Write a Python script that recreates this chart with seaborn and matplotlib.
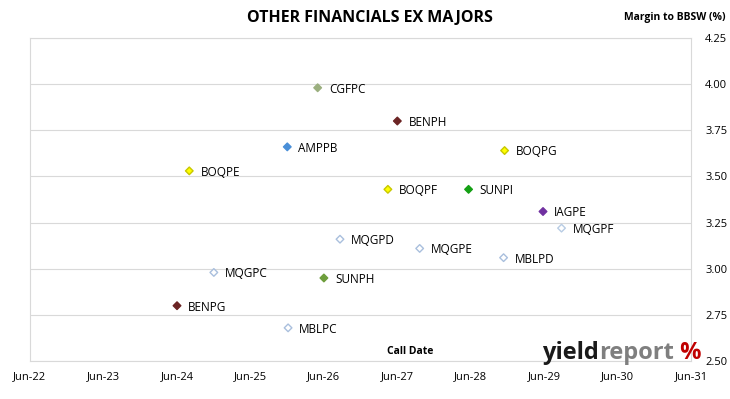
import pandas as pd
import numpy as np
import matplotlib
matplotlib.use("Agg")
import matplotlib.pyplot as plt
import matplotlib.dates as mdates
import seaborn as sns

# Données
codes = ['CGFPC', 'BENPH', 'AMPPB', 'BOQPE', 'BOQPG', 'BOQPF', 'SUNPI', 'IAGPE',
         'MQGPF', 'MQGPD', 'MQGPE', 'MBLPD', 'MQGPC', 'SUNPH', 'BENPG', 'MBLPC']
call_dates = ['2026-05-01', '2027-06-01', '2025-12-01', '2024-08-01', '2028-11-15',
              '2027-04-15', '2028-05-20', '2029-05-25', '2029-08-25', '2026-08-20',
              '2027-09-20', '2028-11-10', '2024-12-01', '2026-06-01', '2024-06-01',
              '2025-12-05']
margins = [3.98, 3.80, 3.66, 3.53, 3.64, 3.43, 3.43, 3.31,
           3.22, 3.16, 3.11, 3.06, 2.98, 2.95, 2.80, 2.68]
edge_colours = ['#9BAF7F', '#6B2424', '#4A8FD8', '#C8C800', '#C8C800', '#C8C800', '#14A014', '#7030A0',
                '#B8CCE4', '#A9BFDD', '#A9BFDD', '#A9BFDD', '#A9BFDD', '#6E9E3C', '#6B2424', '#A9BFDD']
face_colours = ['#9BAF7F', '#6B2424', '#4A8FD8', '#FFFF00', '#FFFF00', '#FFFF00', '#14A014', '#7030A0',
                'white', 'white', 'white', 'white', 'white', '#6E9E3C', '#6B2424', 'white']
y_ticks = [2.50, 2.75, 3.00, 3.25, 3.50, 3.75, 4.00, 4.25]
x_ticks = pd.date_range('2022-06-01', '2031-06-01', freq='12MS')

df = pd.DataFrame({'code': codes, 'date': pd.to_datetime(call_dates), 'margin': margins})

sns.set_style('white')
plt.rcParams['font.family'] = ['Open Sans', 'DejaVu Sans']

fig = plt.figure(figsize=(7.3, 3.99), dpi=100)
ax = fig.add_axes([0.041, 0.095, 0.906, 0.81])

sns.scatterplot(data=df, x='date', y='margin', hue='code',
                palette=dict(zip(codes, edge_colours)), marker='D', s=15,
                linewidth=1.0, legend=False, ax=ax, zorder=3)
coll = ax.collections[0]
coll.set_facecolors(face_colours)
coll.set_edgecolors(edge_colours)

for _, r in df.iterrows():
    ax.annotate(r['code'], (r['date'], r['margin']), xytext=(8, -1),
                textcoords='offset points', va='center', fontsize=8.5, color='black')

ax.set_xlim(x_ticks[0], x_ticks[-1])
ax.set_ylim(2.50, 4.25)
ax.set_xticks(x_ticks)
ax.xaxis.set_major_formatter(mdates.DateFormatter('%b-%y'))
ax.set_yticks(y_ticks)
ax.set_yticklabels([f'{v:.2f}' for v in y_ticks])
ax.yaxis.tick_right()
ax.tick_params(axis='both', labelsize=8, length=0, pad=7, labelcolor='black')
ax.tick_params(axis='y', pad=10)
ax.grid(axis='y', color='#D9D9D9', linewidth=0.8)
for side in ['left', 'right', 'top', 'bottom']:
    ax.spines[side].set_color('#D9D9D9')
    ax.spines[side].set_linewidth(0.8)
ax.set_xlabel('')
ax.set_ylabel('')

fig.text(0.507, 0.955, 'OTHER FINANCIALS EX MAJORS', ha='center', va='center',
         fontsize=11.5, fontweight='bold', color='black')
fig.text(0.925, 0.955, 'Margin to BBSW (%)', ha='center', va='center',
         fontsize=7.5, fontweight='bold', color='black')
ax.text(0.575, 0.012, 'Call Date', transform=ax.transAxes, ha='center', va='bottom',
        fontsize=7.5, fontweight='bold', color='black')

# logo
renderer = fig.canvas.get_renderer()
x0 = 0.743
parts = [('yield', '#1A1A1A'), ('report', '#7F7F7F'), (' %', '#C00000')]
for txt, col in parts:
    t = fig.text(x0, 0.1, txt, ha='left', va='baseline', fontsize=17,
                 fontweight='bold', color=col)
    bb = t.get_window_extent(renderer=renderer)
    x0 += bb.width / fig.bbox.width

fig.savefig('out.png', dpi=100)
